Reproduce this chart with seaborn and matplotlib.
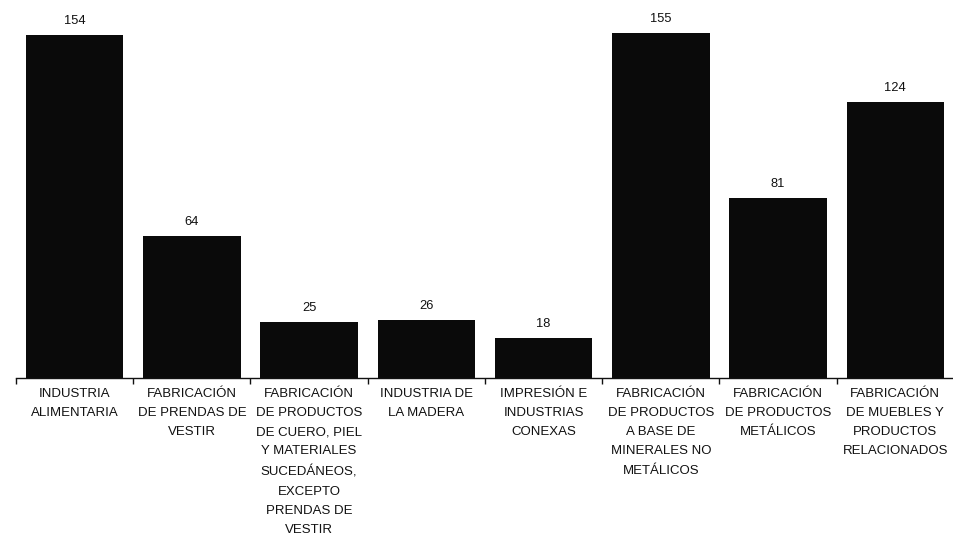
import matplotlib
matplotlib.use("Agg")
import matplotlib.pyplot as plt
import seaborn as sns
import pandas as pd
import numpy as np

categories = [
    "INDUSTRIA\nALIMENTARIA",
    "FABRICACIÓN\nDE PRENDAS DE\nVESTIR",
    "FABRICACIÓN\nDE PRODUCTOS\nDE CUERO, PIEL\nY MATERIALES\nSUCEDÁNEOS,\nEXCEPTO\nPRENDAS DE\nVESTIR",
    "INDUSTRIA DE\nLA MADERA",
    "IMPRESIÓN E\nINDUSTRIAS\nCONEXAS",
    "FABRICACIÓN\nDE PRODUCTOS\nA BASE DE\nMINERALES NO\nMETÁLICOS",
    "FABRICACIÓN\nDE PRODUCTOS\nMETÁLICOS",
    "FABRICACIÓN\nDE MUEBLES Y\nPRODUCTOS\nRELACIONADOS",
]
values = [154, 64, 25, 26, 18, 155, 81, 124]

df = pd.DataFrame({"categoria": categories, "valor": values})

sns.set_theme(style="white")
plt.rcParams["font.family"] = ["Liberation Sans", "DejaVu Sans"]

fig = plt.figure(figsize=(9.54, 5.42), dpi=100)
ax = fig.add_axes([16 / 954, 164 / 542, 938 / 954, 367 / 542])

sns.barplot(data=df, x="categoria", y="valor", color="#0a0a0a",
            saturation=1, width=0.83, edgecolor="none", ax=ax)

ax.set_xlim(-0.5, len(categories) - 0.5)
ax.set_ylim(0, 165)

for i, v in enumerate(values):
    ax.text(i, v + 3.6, f"{v}", ha="center", va="bottom",
            fontsize=9.3, color="#111111")

for side in ["top", "right", "left"]:
    ax.spines[side].set_visible(False)
ax.spines["bottom"].set_color("#111111")
ax.spines["bottom"].set_linewidth(1.0)

ax.set_yticks([])
ax.set_xlabel("")
ax.set_ylabel("")
ax.tick_params(axis="x", which="major", length=0, pad=7)
ax.set_xticks(np.arange(len(categories)))
ax.set_xticklabels(categories, fontsize=9.5, color="#111111",
                   linespacing=1.8, va="top")
ax.set_xticks(np.arange(len(categories) + 1) - 0.5, minor=True)
ax.tick_params(axis="x", which="minor", length=4, width=1,
               color="#111111", bottom=True)

fig.savefig("out.png", dpi=100, facecolor="white")
